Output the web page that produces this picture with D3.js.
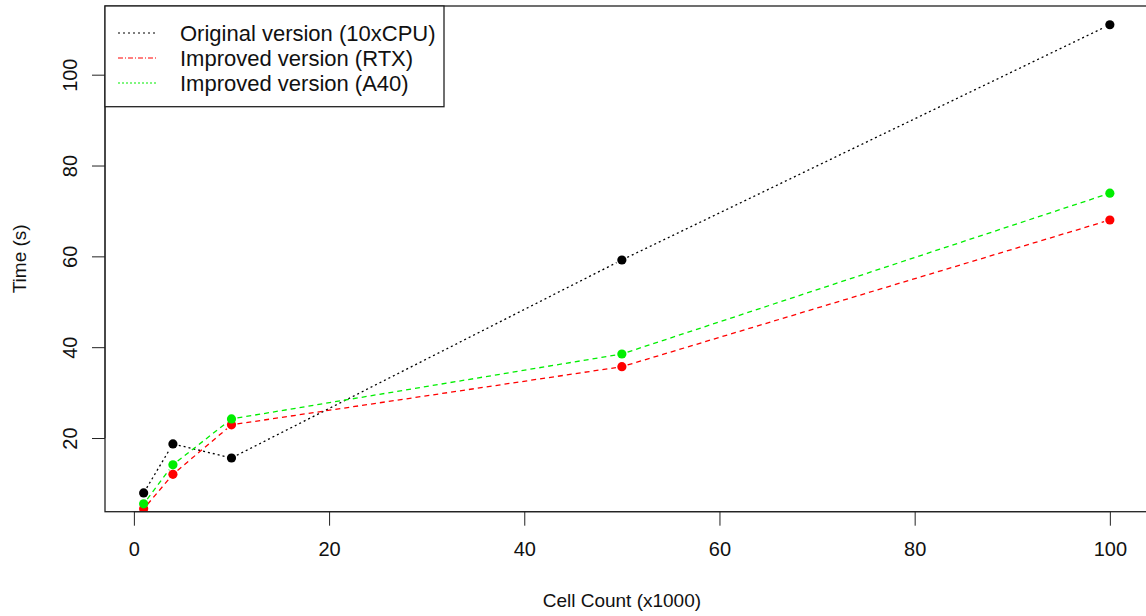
<!DOCTYPE html>
<html>
<head>
<meta charset="utf-8">
<script src="https://cdn.jsdelivr.net/npm/d3@7"></script>
<style>
  html, body { margin: 0; padding: 0; background: #fff; }
  svg { display: block; font-family: "Liberation Sans", Arial, sans-serif; }
</style>
</head>
<body>
<svg id="chart"></svg>
<script>
const WIDTH = 1146;
const HEIGHT = 616;

// data
const cellCounts = [1, 4, 10, 50, 100];
const originalTimes = [7.9, 18.7, 15.6, 59.2, 111.0];
const rtxTimes = [4.4, 12.0, 22.9, 35.7, 68.0];
const a40Times = [5.5, 14.1, 24.2, 38.5, 73.9];
const xTicks = [0, 20, 40, 60, 80, 100];
const yTicks = [20, 40, 60, 80, 100];
const legendLabels = ["Original version (10xCPU)", "Improved version (RTX)", "Improved version (A40)"];

const PLOT = { left: 105, right: 1148.5, top: 6, bottom: 511.7 };

const series = [
  { values: originalTimes, color: "#000000", dash: "2,3", legendDash: "2,3" },
  { values: rtxTimes, color: "#ff0000", dash: "5,4", legendDash: "5,2,1,2" },
  { values: a40Times, color: "#00ee00", dash: "5,4", legendDash: "2,2" }
];

// R style axis range: data range extended 4% each side (y from first series only)
const pad = (lo, hi) => [lo - (hi - lo) * 0.04, hi + (hi - lo) * 0.04];
const x = d3.scaleLinear().domain(pad(d3.min(cellCounts), d3.max(cellCounts))).range([PLOT.left, PLOT.right]);
const y = d3.scaleLinear().domain(pad(d3.min(originalTimes), d3.max(originalTimes))).range([PLOT.bottom, PLOT.top]);

const svg = d3.select("#chart").attr("width", WIDTH).attr("height", HEIGHT);

svg.append("defs").append("clipPath").attr("id", "plot-clip")
  .append("rect")
  .attr("x", PLOT.left).attr("y", PLOT.top)
  .attr("width", PLOT.right - PLOT.left).attr("height", PLOT.bottom - PLOT.top);

const plot = svg.append("g").attr("clip-path", "url(#plot-clip)");

// type = "b": segments stop short of the points
const GAP = 6;
series.forEach((s) => {
  const pts = cellCounts.map((c, i) => [x(c), y(s.values[i])]);
  const segs = d3.pairs(pts).map(([a, b]) => {
    const dx = b[0] - a[0];
    const dy = b[1] - a[1];
    const len = Math.hypot(dx, dy);
    const ux = dx / len;
    const uy = dy / len;
    return [a[0] + ux * GAP, a[1] + uy * GAP, b[0] - ux * GAP, b[1] - uy * GAP];
  });
  plot.append("g")
    .selectAll("line")
    .data(segs)
    .join("line")
    .attr("x1", (d) => d[0]).attr("y1", (d) => d[1])
    .attr("x2", (d) => d[2]).attr("y2", (d) => d[3])
    .attr("stroke", s.color)
    .attr("stroke-width", 1.3)
    .attr("stroke-dasharray", s.dash);

  plot.append("g")
    .selectAll("circle")
    .data(cellCounts)
    .join("circle")
    .attr("cx", (d) => x(d))
    .attr("cy", (d, i) => y(s.values[i]))
    .attr("r", 4.6)
    .attr("fill", s.color);
});

// box
svg.append("rect")
  .attr("x", PLOT.left).attr("y", PLOT.top)
  .attr("width", PLOT.right - PLOT.left).attr("height", PLOT.bottom - PLOT.top)
  .attr("fill", "none").attr("stroke", "#222").attr("stroke-width", 1.3);

// x axis
const xAxis = svg.append("g").attr("transform", `translate(0,${PLOT.bottom})`)
  .call(d3.axisBottom(x).tickValues(xTicks).tickSize(14).tickPadding(16).tickFormat(d3.format("d")));
xAxis.select(".domain").attr("d", `M${x(0)},0H${x(100)}`).attr("stroke", "#222");
xAxis.selectAll(".tick line").attr("stroke", "#222");
xAxis.selectAll("text").attr("font-size", 20).attr("fill", "#111").attr("font-family", "Liberation Sans, Arial, sans-serif");

// y axis
const yAxis = svg.append("g").attr("transform", `translate(${PLOT.left},0)`)
  .call(d3.axisLeft(y).tickValues(yTicks).tickSize(13).tickPadding(0).tickFormat(d3.format("d")));
yAxis.select(".domain").attr("d", `M0,${y(20)}V${y(100)}`).attr("stroke", "#222");
yAxis.selectAll(".tick line").attr("stroke", "#222");
yAxis.selectAll("text")
  .attr("x", null).attr("dy", null)
  .attr("text-anchor", "middle")
  .attr("transform", "translate(-28,0) rotate(-90)")
  .attr("font-size", 20).attr("fill", "#111").attr("font-family", "Liberation Sans, Arial, sans-serif");

// axis titles
svg.append("text")
  .attr("x", x(50)).attr("y", 607)
  .attr("text-anchor", "middle").attr("font-size", 19).attr("fill", "#111")
  .text("Cell Count (x1000)");

svg.append("text")
  .attr("transform", `translate(26,${(PLOT.top + PLOT.bottom) / 2}) rotate(-90)`)
  .attr("text-anchor", "middle").attr("font-size", 19).attr("fill", "#111")
  .text("Time (s)");

// legend
const legend = svg.append("g");
legend.append("rect")
  .attr("x", PLOT.left).attr("y", PLOT.top)
  .attr("width", 339).attr("height", 100.7)
  .attr("fill", "#fff").attr("stroke", "#222").attr("stroke-width", 1.3);

const legendRows = legend.selectAll(".legend-row")
  .data(series)
  .join("g")
  .attr("class", "legend-row")
  .attr("transform", (d, i) => `translate(0,${33 + i * 25})`);

legendRows.append("line")
  .attr("x1", 118).attr("x2", 158)
  .attr("stroke", (d) => d.color)
  .attr("stroke-width", 1.2)
  .attr("stroke-dasharray", (d) => d.legendDash);

legendRows.append("text")
  .attr("x", 180).attr("dy", "0.35em")
  .attr("font-size", 22).attr("fill", "#111")
  .text((d, i) => legendLabels[i]);
</script>
</body>
</html>
